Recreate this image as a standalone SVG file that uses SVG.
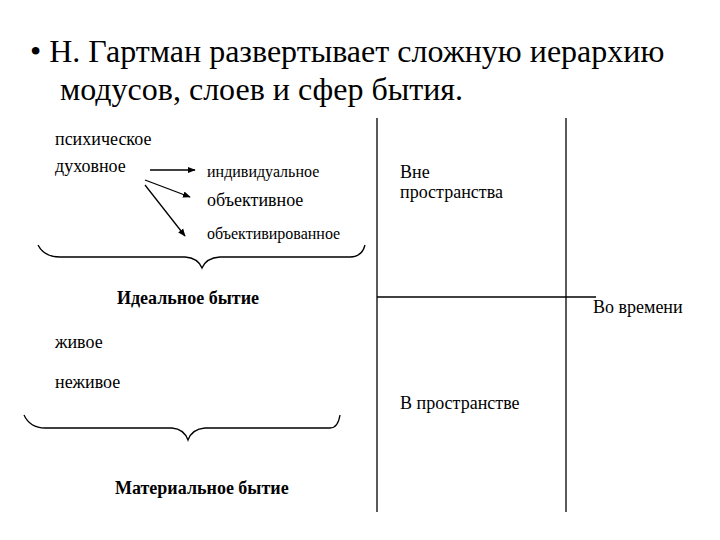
<svg xmlns="http://www.w3.org/2000/svg" width="720" height="540" viewBox="0 0 720 540">
<style>
.t{font-family:"Liberation Serif",serif;font-size:18px;fill:#000}
.s{font-size:16px}
.b{font-weight:bold}
.h{font-family:"Liberation Serif",serif;font-size:32px;fill:#000}
.l{stroke:#000;stroke-width:1.3;fill:none}
</style>
<defs><marker id="a" viewBox="0 0 10 10" refX="9" refY="5" markerWidth="6" markerHeight="6" orient="auto"><path d="M0,1 L10,5 L0,9 z"/></marker></defs>
<rect width="720" height="540" fill="#fff"/>
<text class="h" x="30" y="62">• Н. Гартман развертывает сложную иерархию</text>
<text class="h" x="60" y="100">модусов, слоев и сфер бытия.</text>
<g id="connectors">
<line class="l" stroke-width="2" x1="150" y1="170" x2="195" y2="170" marker-end="url(#a)"/>
<line class="l" stroke-width="2" x1="145" y1="180" x2="190" y2="197" marker-end="url(#a)"/>
<line class="l" stroke-width="2" x1="145" y1="185" x2="185" y2="236" marker-end="url(#a)"/>
<path class="l" d="M38,245 Q44,257 60,257 L185,257 Q198,258 202,268 Q206,258 220,257 L350,257 Q362,257 365,245"/>
<path class="l" d="M24,415 Q30,428 45,428 L172,428 Q184,429 188,440 Q192,429 205,428 L330,428 Q338,428 340,415"/>
<line class="l" x1="377" y1="118" x2="377" y2="512"/>
<line class="l" x1="566" y1="118" x2="566" y2="512"/>
<line class="l" x1="377" y1="297" x2="596" y2="297"/>
</g>
<g id="n1"><text class="t" x="55" y="145">психическое</text></g>
<g id="n2"><text class="t" x="55" y="172">духовное</text></g>
<g id="n3"><text class="t s" x="207" y="177">индивидуальное</text></g>
<g id="n4"><text class="t" x="207" y="206">объективное</text></g>
<g id="n5"><text class="t s" x="207" y="239">объективированное</text></g>
<g id="n6"><text class="t b" x="117" y="304">Идеальное бытие</text></g>
<g id="n7"><text class="t" x="400" y="178">Вне</text><text class="t" x="400" y="198">пространства</text></g>
<g id="n8"><text class="t" x="593" y="313">Во времени</text></g>
<g id="n9"><text class="t" x="55" y="348">живое</text></g>
<g id="n10"><text class="t" x="55" y="388">неживое</text></g>
<g id="n11"><text class="t" x="400" y="409">В пространстве</text></g>
<g id="n12"><text class="t b" x="115" y="494">Материальное бытие</text></g>
</svg>
